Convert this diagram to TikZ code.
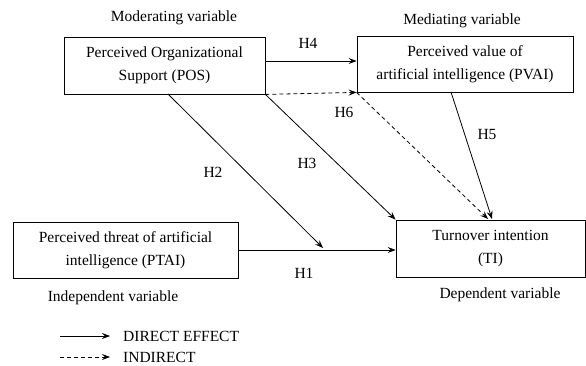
\documentclass[tikz,border=0pt]{standalone}
\usepackage{fontspec}
\setmainfont{Liberation Serif}
\usetikzlibrary{arrows.meta,calc}
\begin{document}
\begin{tikzpicture}[x=1pt,y=-1pt,
  box/.style={draw,line width=0.8pt,inner sep=0pt,align=center,font=\fontsize{15.5}{23}\selectfont},
  lbl/.style={inner sep=0pt,font=\fontsize{15.5}{17}\selectfont},
  arr/.style={line width=0.8pt,-{Stealth[length=8pt,width=6pt,inset=3pt]}},
  darr/.style={arr,dashed,dash pattern=on 4pt off 3pt}]
\useasboundingbox (0,0) rectangle (586,366);
\node[box,minimum width=201pt,minimum height=57pt] (POS) at (164.5,65.5) {Perceived Organizational\\Support (POS)};
\node[box,minimum width=216pt,minimum height=56pt] (PVAI) at (465,64) {Perceived value of\\artificial intelligence (PVAI)};
\node[box,minimum width=189pt,minimum height=57pt] (TI) at (490.5,248.5) {Turnover intention\\(TI)};
\node[box,minimum width=225pt,minimum height=56pt] (PTAI) at (125.5,250) {Perceived threat of artificial\\intelligence (PTAI)};
\node[lbl] (mod) at (174,18) {Moderating variable};
\node[lbl] (med) at (462,21) {Mediating variable};
\node[lbl] (ind) at (113,298) {Independent variable};
\node[lbl] (dep) at (500,295) {Dependent variable};
\node[lbl] (h1) at (304,273) {H1};
\node[lbl] (h2) at (213,172) {H2};
\node[lbl] (h3) at (307,163) {H3};
\node[lbl] (h4) at (308,43) {H4};
\node[lbl] (h5) at (487,135) {H5};
\node[lbl] (h6) at (344,112) {H6};
\coordinate (h4y) at (0,61);
\coordinate (h2s) at (168,94);
\coordinate (h2e) at (323,248);
\coordinate (h5s) at (451,92);
\coordinate (h5e) at (492,219);
\coordinate (h6e) at (488,219);
\draw[arr] (PTAI.east) -- (TI.west |- PTAI.east);
\draw[arr] (h2s) -- (h2e);
\draw[arr] (POS.south east) -- (TI.north west);
\draw[arr] (POS.east |- h4y) -- (PVAI.west |- h4y);
\draw[arr] (h5s) -- (h5e);
\draw[darr] (POS.south east) -- (PVAI.south west);
\draw[darr] (PVAI.south west) -- (h6e);
\coordinate (l1a) at (60,336);
\coordinate (l1b) at (110,336);
\coordinate (l2a) at (60,357);
\coordinate (l2b) at (110,357);
\draw[arr] (l1a) -- (l1b);
\draw[darr] (l2a) -- (l2b);
\node[lbl,anchor=west] (leg1) at (123,336) {DIRECT EFFECT};
\node[lbl,anchor=west] (leg2) at (123,357) {INDIRECT};
\end{tikzpicture}
\end{document}
